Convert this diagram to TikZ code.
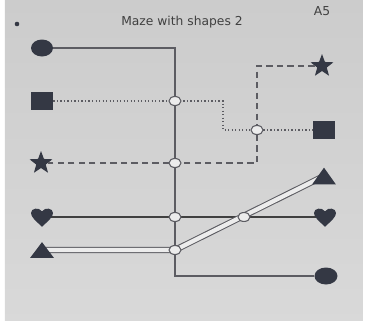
\documentclass[tikz,border=0pt]{standalone}
\usepackage{fontspec}
\usepackage{xcolor}
\usetikzlibrary{shapes.geometric}
\newfontfamily\symfont{DejaVu Sans}
\definecolor{ink}{RGB}{52,56,68}
\definecolor{wire}{RGB}{92,92,98}

\begin{document}
\begin{tikzpicture}[x=0.02cm,y=-0.02cm,
  token/.style={fill=ink,draw=none,inner sep=0pt},
  slot/.style={draw=none,inner sep=0pt,minimum width=0.46cm},
  junc/.style={ellipse,draw=wire,fill=white!85!gray,line width=0.6pt,
    minimum width=0.24cm,minimum height=0.18cm,inner sep=0pt},
  label/.style={font=\symfont\fontsize{7}{8}\selectfont,text=black!75,inner sep=0pt}]

\useasboundingbox (0,0) rectangle (370,322);
\fill[white] (0,0) rectangle (370,322);
\shade[top color=black!20,bottom color=black!15] (5,0) rectangle (363,320);

% heading
\fill[ink] (17,24) circle (1.3pt);
\node[label] (title) at (182,22) {Maze with shapes 2};
\node[label] (sheet) at (322,11) {A5};

% shapes, left and right
\node[token,ellipse,minimum width=0.44cm,minimum height=0.34cm] (circL) at (42,48) {};
\node[token,ellipse,minimum width=0.46cm,minimum height=0.34cm] (circR) at (326,276) {};
\node[token,rectangle,minimum width=0.44cm,minimum height=0.36cm] (sqL) at (42,101) {};
\node[token,rectangle,minimum width=0.44cm,minimum height=0.36cm] (sqR) at (324,130) {};
\node[token,star,star points=5,star point ratio=2.4,minimum size=0.48cm] (starL) at (41,163) {};
\node[token,star,star points=5,star point ratio=2.4,minimum size=0.48cm] (starR) at (322,66) {};
\node[slot,minimum height=0.38cm] (heartL) at (42,217) {};
\node[slot,minimum height=0.38cm] (heartR) at (325,217) {};
\node[slot,minimum height=0.30cm] (triL) at (42,250) {};
\node[slot,minimum height=0.32cm] (triR) at (324,176) {};

% crossings and bends
\coordinate (jA) at (175,101);
\coordinate (jB) at (175,163);
\coordinate (jC) at (257,130);
\coordinate (jD) at (175,217);
\coordinate (jE) at (244,217);
\coordinate (jF) at (175,250);
\coordinate (dotbend) at (223,130);
\coordinate (dashbend) at (257,163);

% paths
\draw[wire,line width=0.65pt] (circL) -| (jA) |- (circR);
\draw[wire,line width=0.7pt,dash pattern=on 0.7pt off 1.3pt] (sqL) -| (dotbend) -- (sqR);
\draw[wire,line width=1pt,dash pattern=on 3.6pt off 2.4pt] (starR) -| (dashbend) -- (starL);
\draw[black!75,line width=1.3pt] (heartL.center) -- (heartR.center);
\draw[wire,line width=0.6pt,double=white!85!gray,double distance=2.4pt] (triL.center) -- (jF) -- (triR.center);

% hearts and triangles over the line ends
\foreach \h in {heartL,heartR}{
	\fill[ink,shift={(\h.center)},x=0.22cm,y=0.205cm] (0,-0.95) .. controls (0.6,-0.35) and (1,0) .. (1,0.4) .. controls (1,0.85) and (0.3,1.0) .. (0,0.55) .. controls (-0.3,1.0) and (-1,0.85) .. (-1,0.4) .. controls (-1,0) and (-0.6,-0.35) .. (0,-0.95) -- cycle;
}
\foreach \t in {triL,triR}{
	\fill[ink] (\t.south west) -- (\t.south east) -- (\t.north) -- cycle;
}

\foreach \j in {jA,jB,jC,jD,jE,jF}{
	\node[junc] (\j-o) at (\j) {};
}

\end{tikzpicture}
\end{document}
